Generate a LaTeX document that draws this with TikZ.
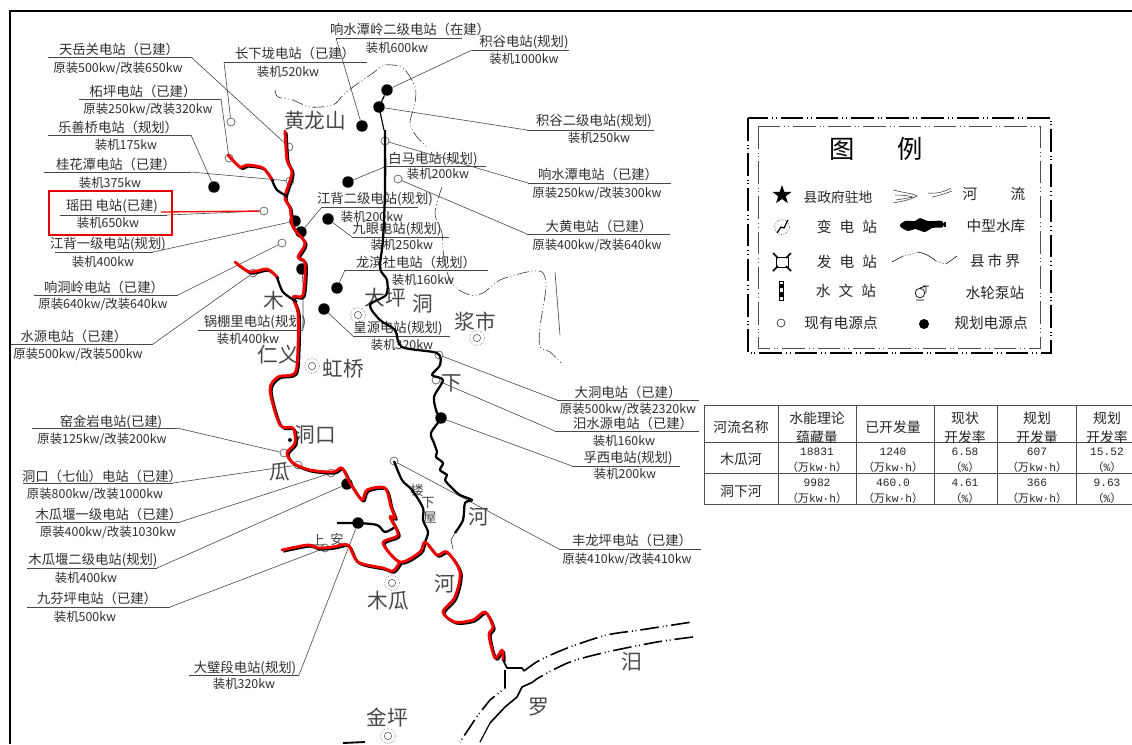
\documentclass[tikz,border=0pt]{standalone}
\usepackage{fontspec}
\setmainfont{Noto Sans CJK SC}
\newfontfamily\monof{Liberation Mono}
\newfontfamily\cjkf{Noto Sans CJK SC}
\usetikzlibrary{shapes.geometric}
\tikzset{
  lbl/.style={inner sep=0pt,font=\fontsize{9.3}{10}\selectfont,text=black!82},
  lbltop/.style={inner sep=0pt,font=\fontsize{10}{11}\selectfont,text=black!82},
  lead/.style={draw=black!72,line width=0.45pt},
  ul/.style={draw=black!72,line width=0.6pt},
  st/.style={circle,draw=black!65,fill=white,line width=0.5pt,inner sep=0pt,minimum size=6pt},
  pl/.style={circle,fill=black,inner sep=0pt,minimum size=8.6pt},
  place/.style={inner sep=0pt,font=\fontsize{15.5}{16}\selectfont,text=black!72},
  placesm/.style={inner sep=0pt,font=\fontsize{10}{11}\selectfont,text=black!72},
  rb/.style={draw=black,line width=1.7pt,line join=round},
  rr/.style={draw=red!95!black,line width=2.15pt,line join=round,line cap=round},
  rthin/.style={draw=black,line width=0.9pt},
  bound/.style={draw=black!80,line width=0.45pt,dash pattern=on 9pt off 2pt on .7pt off 2pt on .7pt off 2pt},
  luo/.style={draw=black,line width=1.2pt,dash pattern=on 14pt off 3pt on .7pt off 2pt on .7pt off 3pt},
  tower/.style={circle,draw=black!70,line width=0.4pt,inner sep=0pt,minimum size=5.5pt},
  lg/.style={inner sep=0pt,font=\fontsize{11}{12}\selectfont,text=black!85},
  legbox/.style={draw=black,line width=1pt,dash pattern=on 17pt off 3pt on .7pt off 2pt on .7pt off 3pt},
  tb/.style={inner sep=0pt,font=\fontsize{10.4}{11}\selectfont,text=black!85},
  tn/.style={inner sep=0pt,font=\fontsize{8.4}{10}\monof\selectfont,text=black!85},
}
\newcommand\wanh{{\cjkf （万}kw·h{\cjkf ）}}
\newcommand\pct{{\cjkf （}\%{\cjkf ）}}
\newcommand\stlab[8]{%
  \coordinate (a#1) at (#2,#4);\coordinate (z#1) at (#3,#4);
  \draw[ul] (a#1) -- (z#1);
  \node[lbltop] (t#1) at #5 {#6};
  \node[lbl] (b#1) at #7 {#8};}
\newcommand\blackriver[2][rb]{\draw[#1] plot[smooth,tension=.5] coordinates {#2};}
\newcommand\redriver[1]{%
  \draw[rb,shift={(1.5,1.5)}] plot[smooth,tension=.5] coordinates {#1};
  \draw[rr] plot[smooth,tension=.5] coordinates {#1};}
\newcommand\townmark[2]{%
  \node[tower] (#1) at #2 {};
  \draw[black!70,line width=.4pt,densely dotted] (#1) circle (5.5pt);}
\begin{document}
\begin{tikzpicture}[x=0.75pt,y=-0.75pt]
\useasboundingbox (0,0) rectangle (1132,744);
\fill[white] (0,0) rectangle (1132,744);
\draw[black,line width=1.5pt] (10,744) -- (10,11) -- (1132,11);

% stations
\node[st] (s1) at (289,147) {};
\node[st] (s2) at (231,122) {};
\node[st] (s3) at (229,158) {};
\node[pl] (s4) at (214,187) {};
\node[st] (s5) at (290,181) {};
\node[st] (s6) at (264,211) {};
\node[pl] (s7) at (295,221) {};
\node[pl] (s8) at (301,232) {};
\node[pl] (s9) at (328,219) {};
\node[pl] (s10) at (348,182) {};
\node[pl] (s11) at (362,126) {};
\node[pl] (s12) at (387,90) {};
\node[pl] (s13) at (379,107) {};
\node[st] (s14) at (385,141) {};
\node[st] (s15) at (398,179) {};
\node[pl] (s16) at (337,288) {};
\node[pl] (s17) at (324,309) {};
\node[st] (s18) at (282,243) {};
\node[st] (s19) at (253,273) {};
\node[pl] (s20) at (302,269) {};
\node[st] (s21) at (284,453) {};
\node[st] (s22) at (298,465) {};
\node[st] (s23) at (331,473) {};
\node[pl] (s24) at (347,484) {};
\node[st] (s25) at (325,548) {};
\node[pl] (s26) at (358,523) {};
\node[st] (s27) at (439,355) {};
\node[st] (s28) at (436,380) {};
\node[pl] (s29) at (441,418) {};
\node[st] (s30) at (394,461) {};

% labels
\stlab{1}{48}{191}{57}{(119,49)}{天岳关电站（已建）}{(118,68)}{原装500kw/改装650kw}
\stlab{2}{224}{367}{62}{(295,53)}{长下垅电站（已建）}{(288,72)}{装机520kw}
\stlab{3}{79}{221}{99}{(143,91)}{柘坪电站（已建）}{(148,109)}{原装250kw/改装320kw}
\stlab{4}{48}{191}{135}{(118,127)}{乐善桥电站（规划）}{(126,145)}{装机175kw}
\stlab{5}{44}{191}{172}{(116,164)}{桂花潭电站（已建）}{(110,183)}{装机375kw}
\stlab{6}{60}{167}{215}{(112,206)}{瑶田 电站(已建)}{(108,223)}{装机650kw}
\stlab{7}{55}{153}{252}{(108,244)}{江背一级电站(规划)}{(103,262)}{装机400kw}
\stlab{8}{322}{418}{207}{(375,199)}{江背二级电站(规划)}{(372,217)}{装机200kw}
\stlab{9}{352}{449}{237}{(397,229)}{九眼电站(规划)}{(402,245)}{装机250kw}
\stlab{10}{387}{486}{166}{(433,159)}{白马电站(规划)}{(438,174)}{装机200kw}
\stlab{11}{336}{462}{38}{(410,29)}{响水潭岭二级电站（在建）}{(397,48)}{装机600kw}
\stlab{12}{472}{569}{50}{(524,42)}{积谷电站(规划)}{(524,59)}{装机1000kw}
\stlab{13}{527}{654}{130}{(594,121)}{积谷二级电站(规划)}{(599,138)}{装机250kw}
\stlab{14}{528}{671}{183}{(598,174)}{响水潭电站（已建）}{(597,193)}{原装250kw/改装300kw}
\stlab{15}{527}{670}{234}{(599,226)}{大黄电站（已建）}{(597,245)}{原装400kw/改装640kw}
\stlab{16}{345}{488}{270}{(416,262)}{龙滨社电站（规划）}{(423,280)}{装机160kw}
\stlab{17}{353}{450}{336}{(398,328)}{皇源电站(规划)}{(402,345)}{装机320kw}
\stlab{18}{34}{178}{295}{(104,287)}{响洞岭电站（已建）}{(103,304)}{原装640kw/改装640kw}
\stlab{19}{11}{153}{344}{(74,336)}{水源电站（已建）}{(78,354)}{原装500kw/改装500kw}
\stlab{20}{198}{303}{330}{(255,322)}{锅棚里电站(规划)}{(248,339)}{装机400kw}
\stlab{21}{32}{177}{428}{(111,422)}{窑金岩电站(已建)}{(102,439)}{原装125kw/改装200kw}
\stlab{22}{23}{173}{483}{(102,476)}{洞口（七仙）电站（已建）}{(95,494)}{原装800kw/改装1000kw}
\stlab{23}{36}{180}{522}{(109,514)}{木瓜堰一级电站（已建）}{(108,532)}{原装400kw/改装1030kw}
\stlab{24}{27}{157}{568}{(93,560)}{木瓜堰二级电站(规划)}{(86,578)}{装机400kw}
\stlab{25}{27}{170}{607}{(97,598)}{九芬坪电站（已建）}{(85,617)}{装机500kw}
\stlab{26}{189}{299}{675}{(245,668)}{大璧段电站(规划)}{(244,684)}{装机320kw}
\stlab{27}{557}{699}{400}{(628,392)}{大洞电站（已建）}{(628,409)}{原装500kw/改装2320kw}
\stlab{28}{555}{699}{431}{(633,423)}{汨水源电站（已建）}{(624,441)}{装机160kw}
\stlab{29}{572}{680}{466}{(628,458)}{孚西电站(规划)}{(625,474)}{装机200kw}
\stlab{30}{559}{701}{549}{(632,540)}{丰龙坪电站（已建）}{(627,559)}{原装410kw/改装410kw}

% leaders
\draw[lead] (z1) -- (s1);
\draw[lead] (a2) -- (s2);
\draw[lead] (z3) -- (s3);
\draw[lead] (z4) -- (s4);
\draw[lead] (z5) -- (s5);
\draw[lead] (z6) -- (s6);
\draw[lead] (z7) -- (s7);
\draw[lead] (a8) -- (s8);
\draw[lead] (a9) -- (s9);
\draw[lead] (a10) -- (s10);
\draw[lead] (a11) -- (s11);
\draw[lead] (a12) -- (s12);
\draw[lead] (a13) -- (s13);
\draw[lead] (a14) -- (s14);
\draw[lead] (a15) -- (s15);
\draw[lead] (a16) -- (s16);
\draw[lead] (a17) -- (s17);
\draw[lead] (z18) -- (s18);
\draw[lead] (z19) -- (s19);
\draw[lead] (z20) -- (303,285) -- (s20);
\draw[lead] (z21) -- (s21);
\draw[lead] (z22) -- (s22);
\draw[lead] (z23) -- (s23);
\draw[lead] (z24) -- (s24);
\draw[lead] (z25) -- (s25);
\draw[lead] (z26) -- (s26);
\draw[lead] (a27) -- (s27);
\draw[lead] (a28) -- (s28);
\draw[lead] (a29) -- (s29);
\draw[lead] (a30) -- (s30);

% county boundaries
\draw[bound] plot[smooth,tension=.5] coordinates {(275,90)(278,97)(293,100)(310,107)(333,105)(343,95)(353,87)(373,73)(385,65)(403,68)(415,87)(415,103)(410,123)(417,137)(427,147)};
\draw[bound] plot[smooth,tension=.5] coordinates {(442,187)(435,213)(442,233)(443,250)(447,272)(455,287)(470,295)(483,293)(500,280)(527,272)(542,272)(546,287)(540,327)(540,347)(550,352)(562,364)};
\draw[black!70,line width=.5pt] (555,272) -- (560,335);

% place names
\node[place] (p1) at (315,121) {黄龙山};
\node[place] (p2) at (274,301) {木};
\node[place] (p3) at (385,298) {大坪};
\node[place] (p4) at (423,304) {洞};
\node[place] (p5) at (475,322) {浆市};
\node[place] (p6) at (278,355) {仁义};
\node[place] (p7) at (343,369) {虹桥};
\node[place] (p8) at (452,383) {下};
\node[place] (p9) at (315,435) {洞口};
\node[place] (p10) at (280,472) {瓜};
\node[place] (p11) at (479,517) {河};
\node[place] (p12) at (445,584) {河};
\node[place] (p13) at (388,601) {木瓜};
\node[place] (p14) at (632,662) {汨};
\node[place] (p15) at (539,707) {罗};
\node[place] (p16) at (387,718) {金坪};
\node[placesm] (p17) at (417,490) {楼};
\node[placesm] (p18) at (428,503) {下};
\node[placesm] (p19) at (430,518) {屋};
\node[placesm] (p20) at (318,540) {上};
\node[placesm] (p21) at (337,539) {安};
\townmark{m1}{(312,366)}
\townmark{m2}{(358,315)}
\townmark{m3}{(477,338)}
\townmark{m4}{(392,583)}
\townmark{m5}{(388,736)}

% black rivers
\draw[rthin] (s12) -- (379,107) -- (384,130);
\blackriver{(385,130)(385,190)(383,240)(380,268)(387,280)(386,295)(370,305)(380,320)(395,330)(402,347)(437,353)(440,365)(432,375)(443,380)(434,397)(437,413)(441,418)(431,433)(434,443)(437,452)(436,457)(443,463)(440,470)(447,475)(445,480)(452,488)(460,495)(472,500)(465,503)(463,520)(455,533)}
\draw[black!70,line width=.5pt] (455,533) -- (451,540) -- (453,549);
\blackriver{(394,461)(402,480)(412,490)(423,508)(423,520)(428,532)(425,542)}
\blackriver{(337,523)(357,523)(377,525)(385,532)(395,527)}
\node[circle,fill=black,inner sep=0pt,minimum size=3pt] (dot1) at (290,440) {};

% red rivers
\redriver{(285,131)(287,160)(292,173)(285,197)(290,208)(293,227)(305,243)(298,257)(305,263)(303,295)(293,297)(298,313)(298,347)(295,373)(278,377)(270,390)(280,425)(293,428)(295,443)(287,453)(293,463)(310,470)(333,472)(342,468)(350,483)(362,500)(367,490)(385,488)(391,507)(395,518)(390,517)(398,535)(383,543)(400,562)(420,552)(425,542)(437,555)(447,552)(460,572)(455,597)(443,612)(455,622)(473,620)(485,612)(493,627)(489,635)(495,658)(502,650)(503,660)}
\redriver{(228,155)(240,167)(247,165)(263,168)(272,180)}
\blackriver{(272,180)(277,190)(287,196)}
\redriver{(235,262)(250,272)(267,269)(277,277)}
\blackriver{(277,277)(283,292)(297,302)}
\redriver{(282,550)(308,545)(318,548)(333,547)(348,545)(358,562)(383,568)(393,571)(400,562)}

% red box over Yaotian
\coordinate (r6) at (161,212);
\draw[red,line width=1pt] (r6) -- (s6);
\draw[red!90!black,line width=1pt] (49,191) rectangle (172,235);

% Luo river
\draw[rb,line width=1.2pt] (503,660) -- (507,668) -- (522,668) -- (524,671);
\draw[luo] plot[smooth,tension=.5] coordinates {(524,671)(540,660)(570,647)(607,635)(640,630)(692,622)};
\draw[luo] plot[smooth,tension=.5] coordinates {(693,637)(657,642)(607,652)(570,662)(540,677)(533,682)};
\draw[rb,line width=1.2pt] (533,682) -- (522,687) -- (517,697) -- (505,707) -- (490,723);
\draw[black,line width=.9pt] (490,723) -- (480,742);
\draw[luo] (505,670) -- (505,688) -- (490,700) -- (478,715) -- (460,742);
\draw[black,line width=1.4pt] (343,743) -- (365,742);

% legend
\draw[legbox] (748,118) rectangle (1051,353);
\draw[legbox,line width=.6pt,draw=black!70] (758,126) rectangle (1040,348);
\node[inner sep=0pt,font=\fontsize{19}{20}\selectfont] (g1) at (842,149) {图};
\node[inner sep=0pt,font=\fontsize{19}{20}\selectfont] (g2) at (910,149) {例};
\node[star,star points=5,star point ratio=2.5,fill=black,inner sep=0pt,minimum size=15pt] (k1) at (782,195) {};
\node[lg,font=\fontsize{10.3}{11}\selectfont] (l1) at (838,197) {县政府驻地};
\draw[black!80,line width=.4pt] (893,190) .. controls (905,193) and (915,194) .. (917,196) .. controls (912,199) and (905,201) .. (893,203);
\draw[black!80,line width=.4pt] (895,195) .. controls (903,195) and (910,196) .. (913,197) .. controls (908,198) and (902,199) .. (896,200);
\draw[black!80,line width=.4pt] (928,193) .. controls (935,194) and (945,192) .. (951,188);
\draw[black!80,line width=.4pt] (932,197) .. controls (938,196) and (947,193) .. (952,191);
\node[lg] (l2) at (970,194) {河};
\node[lg] (l3) at (1018,194) {流};
\node[circle,draw=black,densely dotted,line width=.4pt,inner sep=0pt,minimum size=11pt] (k2) at (782,227) {};
\draw[black,line width=.9pt] (777,233) -- (781,227) -- (784,228) -- (788,220);
\node[lg] (l4) at (847,227) {变\hspace{.55em}电\hspace{.55em}站};
\fill[black] plot[smooth cycle,tension=.6] coordinates {(900,226)(905,221)(915,221)(920,218)(928,221)(942,221)(943,227)(932,228)(925,232)(915,229)(908,231)};
\draw[black,line width=.8pt] (945,222) -- (945,227);
\node[lg] (l5) at (996,226) {中型水库};
\draw[black,line width=.6pt] (776,257) rectangle (788,267);
\draw[black,line width=1.1pt] (773,253) -- (778,258) (791,253) -- (786,258) (773,271) -- (778,266) (791,271) -- (786,266);
\node[lg] (l6) at (847,262) {发\hspace{.55em}电\hspace{.55em}站};
\draw[black,line width=.4pt] (892,262) -- (903,256);
\draw[black,line width=.4pt,densely dotted] (903,256) -- (916,253);
\draw[black,line width=.4pt] (917,252) .. controls (925,253) and (930,256) .. (936,261);
\draw[black,line width=.4pt,densely dotted] (936,261) -- (945,264);
\draw[black,line width=.4pt] (946,264) -- (957,256);
\node[lg] (l7) at (995,261) {县\hspace{.2em}市\hspace{.2em}界};
\draw[black,line width=.5pt] (779,281) rectangle (783,300);
\fill[black] (779,284) rectangle (783,288) (779,292) rectangle (783,297);
\node[lg] (l8) at (846,291) {水\hspace{.55em}文\hspace{.55em}站};
\draw[black,line width=.5pt] (920,293) circle (3.6pt);
\draw[black,line width=.5pt] (920,288) -- (926,286) -- (926,293) (923,286) -- (929,286) (916,300) -- (924,300);
\node[lg] (l9) at (995,293) {水轮泵站};
\node[circle,draw=black!80,line width=.5pt,inner sep=0pt,minimum size=6pt] (k5) at (781,323) {};
\node[lg] (l10) at (841,323) {现有电源点};
\node[pl,minimum size=7.5pt] (k6) at (924,324) {};
\node[lg] (l11) at (991,323) {规划电源点};

% table
\draw[black!70,line width=.6pt] (704,405) -- (1132,405) (704,442) -- (1132,442) (704,473) -- (1132,473) (704,504) -- (1132,504);
\draw[black!70,line width=.6pt] (704,405) -- (704,504) (778,405) -- (778,504) (856,405) -- (856,504) (934,405) -- (934,504) (997,405) -- (997,504) (1076,405) -- (1076,504);
\node[tb] (h1) at (741,427) {河流名称};
\node[tb] (h2a) at (817,418) {水能理论};
\node[tb] (h2b) at (817,437) {蕴藏量};
\node[tb] (h3) at (893,427) {已开发量};
\node[tb] (h4a) at (965,418) {现状};
\node[tb] (h4b) at (965,437) {开发率};
\node[tb] (h5a) at (1037,418) {规划};
\node[tb] (h5b) at (1037,437) {开发量};
\node[tb] (h6a) at (1107,418) {规划};
\node[tb] (h6b) at (1107,437) {开发率};
\node[tb] (r1) at (741,459) {木瓜河};
\node[tb] (r2) at (741,491) {洞下河};
\node[tn] (c11) at (817,452) {18831};
\node[tn] (c12) at (817,467) {\wanh};
\node[tn] (c13) at (893,452) {1240};
\node[tn] (c14) at (893,467) {\wanh};
\node[tn] (c15) at (965,452) {6.58};
\node[tn] (c16) at (965,467) {\pct};
\node[tn] (c17) at (1037,452) {607};
\node[tn] (c18) at (1037,467) {\wanh};
\node[tn] (c19) at (1107,452) {15.52};
\node[tn] (c1a) at (1107,467) {\pct};
\node[tn] (c21) at (817,483) {9982};
\node[tn] (c22) at (817,498) {\wanh};
\node[tn] (c23) at (893,483) {460.0};
\node[tn] (c24) at (893,498) {\wanh};
\node[tn] (c25) at (965,483) {4.61};
\node[tn] (c26) at (965,498) {\pct};
\node[tn] (c27) at (1037,483) {366};
\node[tn] (c28) at (1037,498) {\wanh};
\node[tn] (c29) at (1107,483) {9.63};
\node[tn] (c2a) at (1107,498) {\pct};
\end{tikzpicture}
\end{document}
